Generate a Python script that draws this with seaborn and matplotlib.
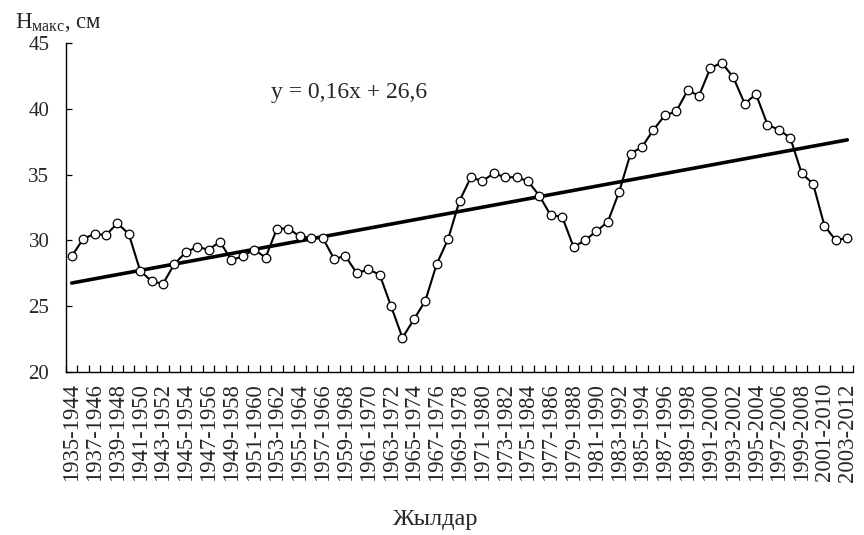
import numpy as np
import pandas as pd
import matplotlib
matplotlib.use("Agg")
import matplotlib.pyplot as plt
from matplotlib.ticker import FixedLocator
import seaborn as sns

# Ten-year moving windows and the maximum snow depth for each window (cm)
start_years = list(range(1935, 2004))
periods = [f"{y}-{y + 9}" for y in start_years]
h_max = [
    28.8, 30.1, 30.5, 30.4, 31.3, 30.5, 27.7, 26.9, 26.7, 28.2,
    29.1, 29.5, 29.3, 29.9, 28.5, 28.8, 29.3, 28.7, 30.9, 30.9,
    30.3, 30.2, 30.2, 28.6, 28.8, 27.5, 27.8, 27.4, 25.0, 22.6,
    24.0, 25.4, 28.2, 30.1, 33.0, 34.8, 34.5, 35.1, 34.8, 34.8,
    34.5, 33.4, 31.9, 31.8, 29.5, 30.0, 30.7, 31.4, 33.7, 36.6,
    37.1, 38.4, 39.5, 39.8, 41.4, 41.0, 43.1, 43.5, 42.4, 40.4,
    41.1, 38.8, 38.4, 37.8, 35.1, 34.3, 31.1, 30.0, 30.2,
]

# Linear trend as stated on the chart: y = 0,16x + 26,6 (x = 1, 2, ...)
slope = 0.16
intercept = 26.6

y_ticks = [20, 25, 30, 35, 40, 45]

sns.set_style("ticks")
plt.rcParams["font.family"] = ["Liberation Serif", "DejaVu Serif"]
plt.rcParams["mathtext.fontset"] = "custom"
plt.rcParams["mathtext.rm"] = "Liberation Serif"

df = pd.DataFrame({
    "pos": np.arange(len(periods)),
    "period": periods,
    "h": h_max,
})
df["trend"] = slope * (df["pos"] + 1) + intercept

fig = plt.figure(figsize=(8.64, 5.35), dpi=100)
ax = fig.add_axes([66 / 864, 1 - 372 / 535, (853 - 66) / 864, (372 - 43) / 535])

sns.lineplot(data=df, x="pos", y="trend", ax=ax, color="black",
             linewidth=2.6, zorder=2)
sns.lineplot(data=df, x="pos", y="h", ax=ax, color="black", linewidth=1.5,
             marker="o", markersize=6.2, markerfacecolor="white",
             markeredgecolor="black", markeredgewidth=0.9, zorder=3)

ax.set_xlim(-0.5, len(periods) - 0.5)
ax.set_ylim(20, 45)
ax.set_yticks(y_ticks)
ax.set_yticklabels([str(v) for v in y_ticks], fontsize=15)

# category boundaries carry the tick marks, every second period is labelled
ax.xaxis.set_minor_locator(FixedLocator(np.arange(-0.5, len(periods), 1.0)))
ax.set_xticks(df["pos"][::2])
ax.set_xticklabels(df["period"][::2], rotation=90, fontsize=16.3)
ax.tick_params(axis="x", which="major", length=0, pad=8)
ax.tick_params(axis="x", which="minor", direction="in", length=5, width=0.9,
               color="black")
ax.tick_params(axis="y", direction="in", length=4.5, width=0.9, pad=12,
               color="black")

ax.set_xlabel("")
ax.set_ylabel("")
for side in ("top", "right"):
    ax.spines[side].set_visible(False)
for side in ("left", "bottom"):
    ax.spines[side].set_color("black")
    ax.spines[side].set_linewidth(1.0)

ax.text(0.26, 0.851, "y = 0,16x + 26,6", transform=ax.transAxes,
        fontsize=17, va="center", ha="left")

fig.text(15 / 864, 1 - 22 / 535, r"$\mathregular{Н_{макс}}$, см",
         fontsize=16.5, va="center", ha="left")
fig.text(436 / 864, 1 - 519 / 535, "Жылдар", fontsize=17.5,
         va="center", ha="center")

fig.savefig("out.png", dpi=100)
